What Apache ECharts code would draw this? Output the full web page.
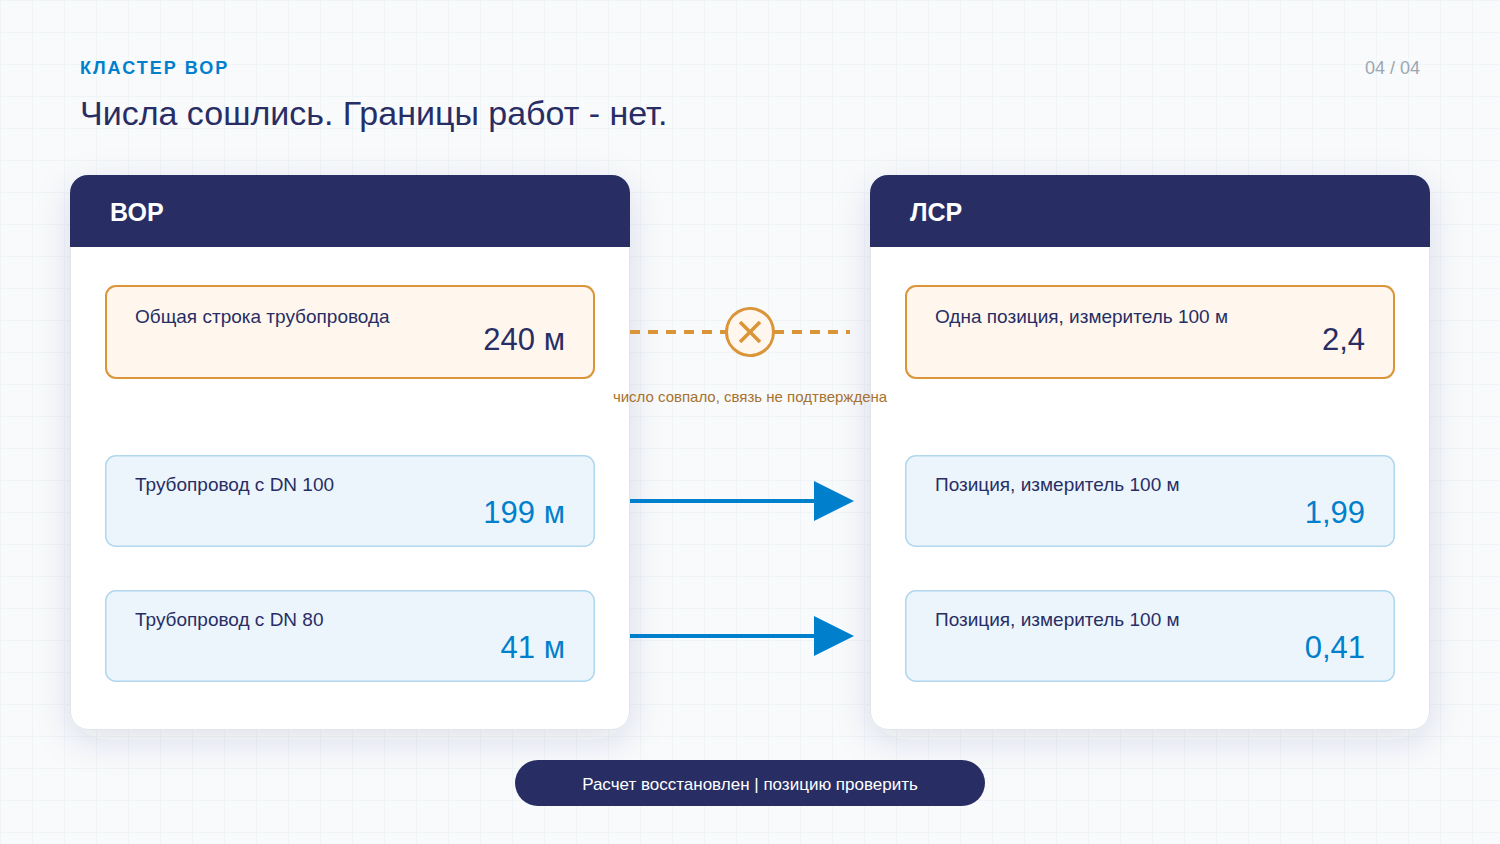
<!DOCTYPE html>
<html lang="ru">
<head>
<meta charset="utf-8">
<title>Кластер ВОР</title>
<script src="https://cdn.jsdelivr.net/npm/echarts@6/dist/echarts.min.js"></script>
<style>html,body{margin:0;padding:0;background:#f8fafc}#c{width:1500px;height:844px}</style>
</head>
<body>
<div id="c"></div>
<script>
const eyebrow = 'КЛАСТЕР ВОР';
const pageNo = '04 / 04';
const headline = 'Числа сошлись. Границы работ - нет.';
const panelTitles = ['ВОР', 'ЛСР'];
const leftLabels = ['Общая строка трубопровода', 'Трубопровод с DN 100', 'Трубопровод с DN 80'];
const leftValues = ['240 м', '199 м', '41 м'];
const rightLabels = ['Одна позиция, измеритель 100 м', 'Позиция, измеритель 100 м', 'Позиция, измеритель 100 м'];
const rightValues = ['2,4', '1,99', '0,41'];
const mismatchNote = 'число совпало, связь не подтверждена';
const footerNote = 'Расчет восстановлен | позицию проверить';

const FONT = '"Liberation Sans", Arial, sans-serif';
const NAVY = '#282e64', BLUE = '#0080cc', ORANGE = '#db9539';

const els = [];
const txt = (text, x, y, size, fill, extra) => els.push({
  type: 'text', x, y, z: (extra && extra.z) || 20, silent: true,
  style: { text, fill, font: `${(extra && extra.weight) || 'normal'} ${size}px ${FONT}`,
    align: (extra && extra.align) || 'left', verticalAlign: 'middle' }
});
const rect = (x, y, w, h, r, fill, stroke, lw, z, shadow) => els.push({
  type: 'rect', z, silent: true, shape: { x, y, width: w, height: h, r },
  style: Object.assign({ fill, stroke: stroke || null, lineWidth: lw || 0 }, shadow || {})
});
const seg = (x1, y1, x2, y2, stroke, lw, z, dash) => els.push({
  type: 'line', z, silent: true, shape: { x1, y1, x2, y2 },
  style: { stroke, lineWidth: lw, lineDash: dash || null }
});

// background grid
for (let x = 0; x < 1500; x += 32) seg(x + .5, 0, x + .5, 844, '#eff4f7', 1, 1);
for (let y = 0; y < 844; y += 32) seg(0, y + .5, 1500, y + .5, '#eff4f7', 1, 1);

txt(eyebrow, 80, 67.5, 18, BLUE, { weight: 'bold' });
txt(pageNo, 1420, 68, 18, '#9aa7b1', { align: 'right' });
txt(headline, 80, 113, 34, NAVY);

function panel(px, title, labels, values) {
  rect(px + .5, 175.5, 559, 554, 18, '#fff', '#dfe5eb', 1, 5,
    { shadowBlur: 36, shadowColor: 'rgba(40,46,100,0.12)', shadowOffsetY: 10 });
  rect(px, 175, 560, 72, [18, 18, 0, 0], NAVY, null, 0, 6);
  txt(title, px + 40, 212, 25, '#fff', { weight: 'bold' });
  const tops = [285, 455, 590], hs = [94, 92, 92];
  labels.forEach((label, i) => {
    const warn = i === 0;
    const lw = warn ? 2 : 1.5;
    rect(px + 35 + lw / 2, tops[i] + lw / 2, 490 - lw, hs[i] - lw, 10,
      warn ? '#fff7ee' : '#ecf5fc', warn ? ORANGE : '#b0d7ee', lw, 7);
    txt(label, px + 65, tops[i] + (warn ? 31.5 : 29.5), 19, NAVY);
    txt(values[i], px + 495, tops[i] + (warn ? 54 : 57), 31, warn ? NAVY : BLUE, { align: 'right' });
  });
}
panel(70, panelTitles[0], leftLabels, leftValues);
panel(870, panelTitles[1], rightLabels, rightValues);

// broken link
seg(630, 332, 850, 332, ORANGE, 4, 8, [10, 8]);
els.push({ type: 'circle', z: 9, silent: true, shape: { cx: 750, cy: 332, r: 23.5 },
  style: { fill: '#fff7ee', stroke: ORANGE, lineWidth: 3 } });
seg(740, 322, 760, 342, ORANGE, 3.5, 10);
seg(760, 322, 740, 342, ORANGE, 3.5, 10);
txt(mismatchNote, 750, 396.5, 15, '#a6722e', { align: 'center' });

// confirmed links
[501, 636].forEach(y => {
  seg(630, y, 816, y, BLUE, 4, 8);
  els.push({ type: 'polygon', z: 9, silent: true,
    shape: { points: [[814, y - 20], [854, y], [814, y + 20]] }, style: { fill: BLUE } });
});

rect(515, 760, 470, 46, 23, NAVY, null, 0, 8);
txt(footerNote, 750, 784, 17, '#fff', { align: 'center' });

const chart = echarts.init(document.getElementById('c'), null, { width: 1500, height: 844, renderer: 'svg' });
chart.setOption({ animation: false, backgroundColor: '#f8fafc', graphic: { elements: els } });

// letter spacing for the eyebrow line only
const applyEyebrowSpacing = () => document.querySelectorAll('#c svg text').forEach(n => {
  if (n.textContent === eyebrow) n.setAttribute('letter-spacing', '2');
});
applyEyebrowSpacing();
chart.on('finished', applyEyebrowSpacing);
</script>
</body>
</html>
